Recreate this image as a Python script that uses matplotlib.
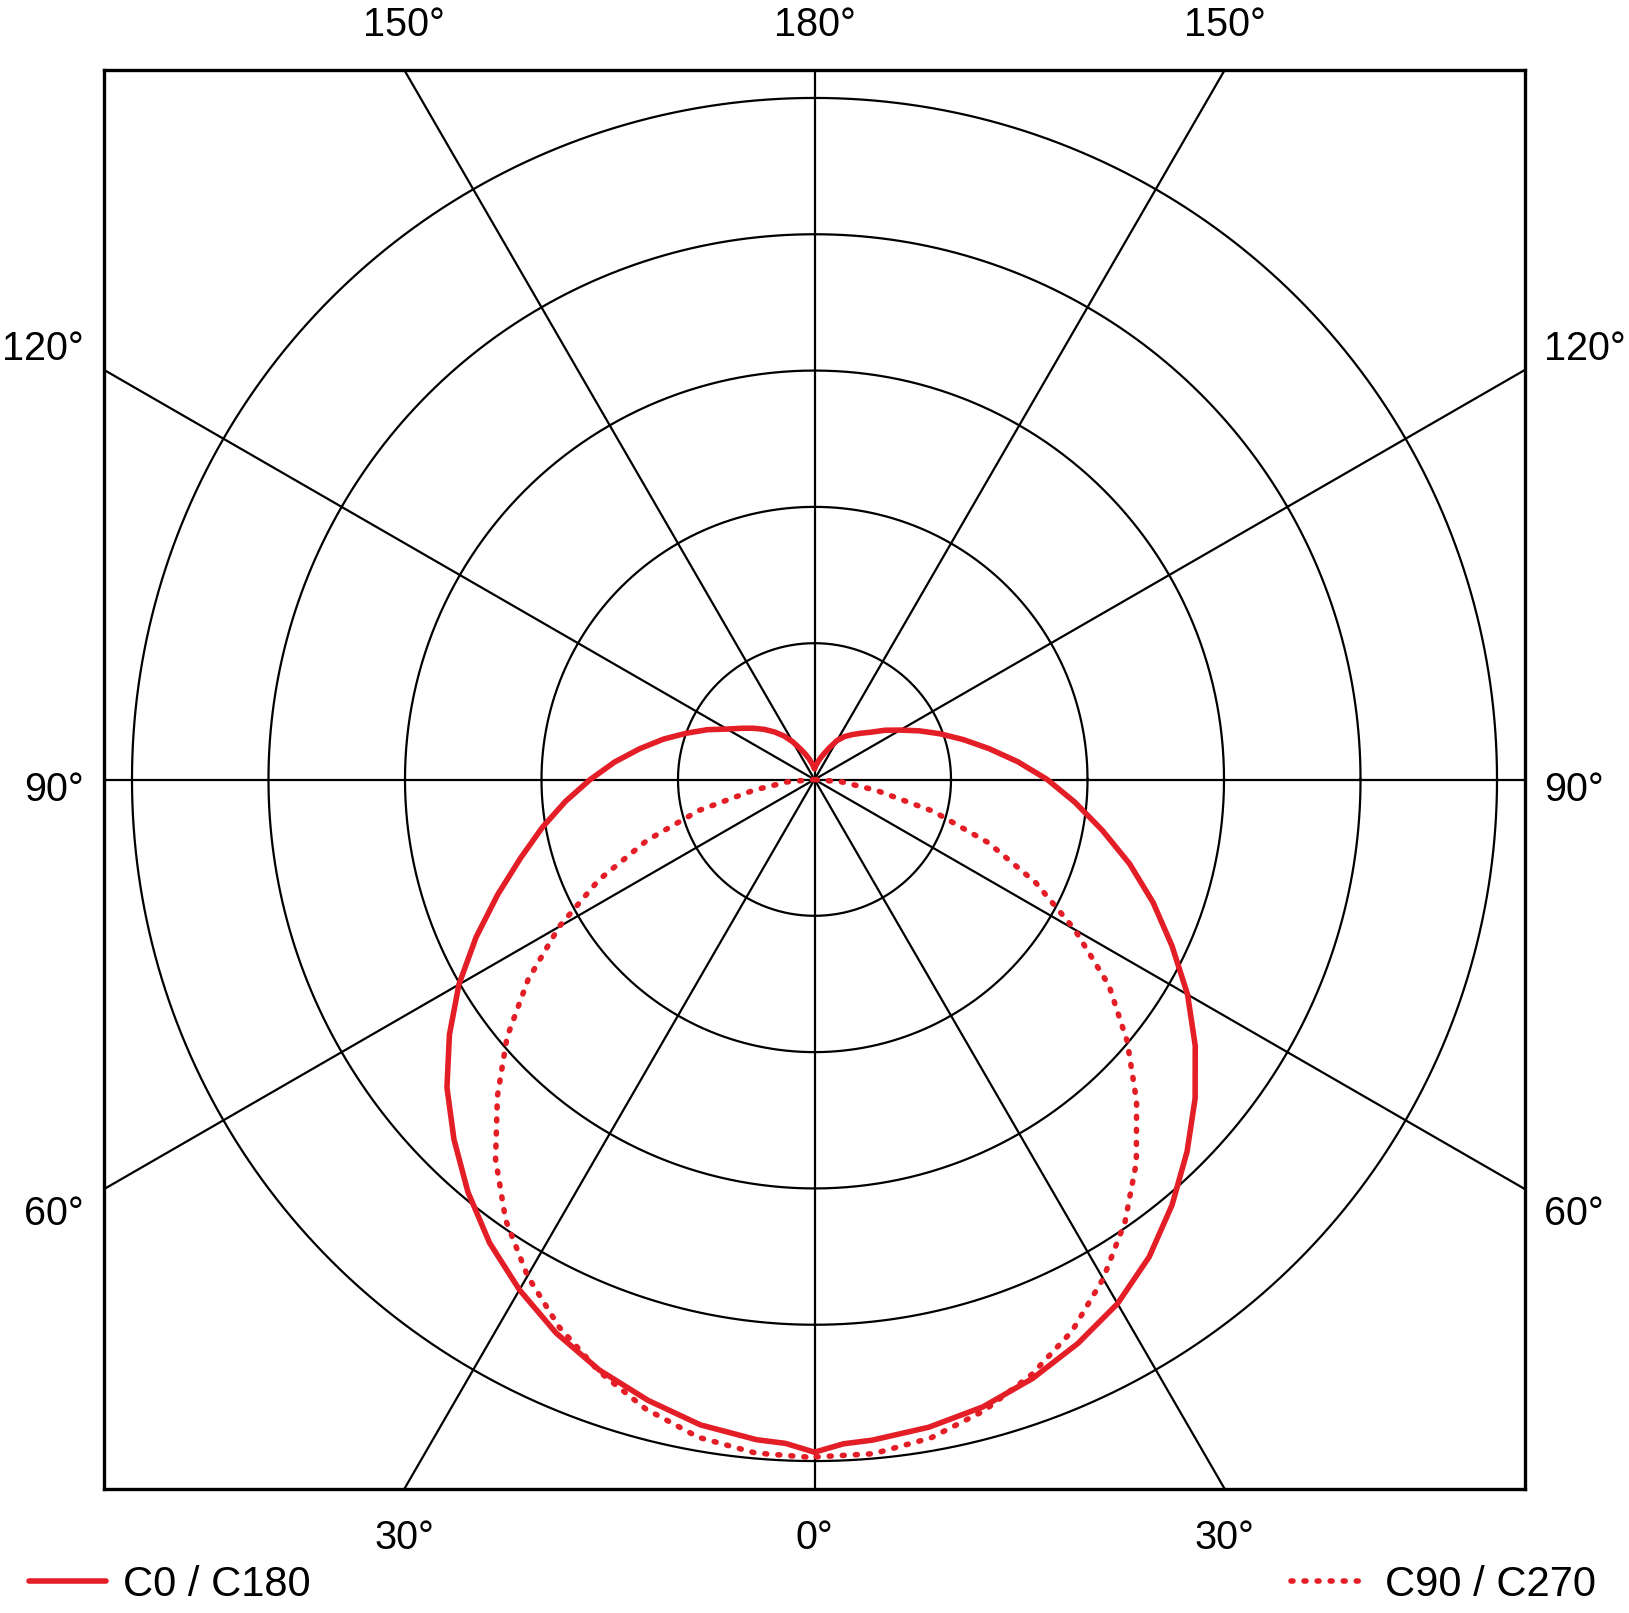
import matplotlib
matplotlib.use('Agg')
import matplotlib.pyplot as plt
import numpy as np
from matplotlib.lines import Line2D

plt.rcParams['font.family'] = ['Liberation Sans', 'DejaVu Sans']
plt.rcParams['figure.dpi'] = 100

RED = '#e41e26'

# luminous intensity, gamma measured from straight down (0) to straight up (180)
gamma = np.r_[0, 2.5, np.arange(5, 185, 5)]
c0 = [4.935, 4.878, 4.865, 4.825, 4.765, 4.675, 4.565, 4.44, 4.275, 4.075, 3.86,
      3.64, 3.405, 3.156, 2.89, 2.64, 2.39, 2.14, 1.915, 1.705, 1.495,
      1.30, 1.13, 0.98, 0.845, 0.725, 0.63, 0.54, 0.48, 0.43, 0.385,
      0.33, 0.255, 0.20, 0.16, 0.125, 0.10, 0.08]
c180 = [4.935, 4.875, 4.862, 4.808, 4.715, 4.61, 4.48, 4.323, 4.15, 3.95, 3.735,
        3.515, 3.265, 3.008, 2.735, 2.47, 2.23, 2.025, 1.83, 1.643, 1.47,
        1.30, 1.145, 0.995, 0.865, 0.74, 0.655, 0.585, 0.52, 0.455, 0.39,
        0.32, 0.25, 0.20, 0.16, 0.125, 0.10, 0.08]

gamma_t = np.arange(0, 95, 5)
c90 = [4.97, 4.965, 4.905, 4.795, 4.647, 4.465, 4.229, 3.965, 3.668, 3.337,
       2.991, 2.633, 2.20, 1.786, 1.355, 0.90, 0.46, 0.2, 0.0]
c270 = [4.975, 4.96, 4.9, 4.78, 4.62, 4.43, 4.205, 3.945, 3.635, 3.285,
        2.94, 2.562, 2.16, 1.744, 1.305, 0.875, 0.45, 0.2, 0.0]

rings = [1, 2, 3, 4, 5]
spokes = [0, 30, 60, 90, 120, 150]
top_labels = [150, 180, 150]
bottom_labels = [30, 0, 30]
side_labels = [120, 90, 60]

lim = 5.205


def to_xy(g, r, side):
    t = np.radians(np.asarray(g, dtype=float))
    r = np.asarray(r, dtype=float)
    return side * r * np.sin(t), -r * np.cos(t)


W, H = 1629, 1613
fig = plt.figure(figsize=(W / 100, H / 100))
ax = fig.add_axes([104 / W, (H - 1489) / H, 1421 / W, 1419 / H])
ax.set_xlim(-lim, lim)
ax.set_ylim(-lim, lim)
ax.set_xticks([])
ax.set_yticks([])
for sp in ax.spines.values():
    sp.set_linewidth(2.4)

# grid
t = np.linspace(0, 2 * np.pi, 721)
for r in rings:
    ax.plot(r * np.cos(t), r * np.sin(t), color='black', lw=1.6, zorder=1)
for s in spokes:
    a = np.radians(s)
    L = 20
    ax.plot([-L * np.sin(a), L * np.sin(a)], [L * np.cos(a), -L * np.cos(a)],
            color='black', lw=1.6, zorder=1)

# curves
lw = 4.0
dots = (0, (0.35, 2.0))
xl, yl = to_xy(gamma[::-1], c180[::-1], -1)
xr, yr = to_xy(gamma, c0, 1)
ax.plot(np.r_[xl, xr], np.r_[yl, yr], color=RED, lw=lw,
        solid_joinstyle='round', solid_capstyle='round', zorder=3)

xl, yl = to_xy(gamma_t[::-1], c270[::-1], -1)
xr, yr = to_xy(gamma_t, c90, 1)
ax.plot(np.r_[xl, xr], np.r_[yl, yr], color=RED, lw=lw,
        linestyle=dots, dash_capstyle='round', zorder=3)

# angle labels
fs = 28.5
edge = lim * np.tan(np.radians(30))
for xpos, lab in zip([-edge, 0, edge], top_labels):
    ax.text(xpos, lim + 0.33, f'{lab}°', ha='center', va='center', fontsize=fs)
for xpos, lab in zip([-edge, 0, edge], bottom_labels):
    ax.text(xpos, -lim - 0.36, f'{lab}°', ha='center', va='center', fontsize=fs)
for ypos, lab in zip([edge + 0.155, -0.08, -edge - 0.185], side_labels):
    ax.text(-lim - 0.15, ypos, f'{lab}°', ha='right', va='center', fontsize=fs)
    ax.text(lim + 0.14, ypos, f'{lab}°', ha='left', va='center', fontsize=fs)

# legends
h1 = Line2D([], [], color=RED, lw=lw, solid_capstyle='round')
h2 = Line2D([], [], color=RED, lw=lw, linestyle=dots, dash_capstyle='round')
leg_kw = dict(frameon=False, borderpad=0, borderaxespad=0, handlelength=1.85,
              handletextpad=0.4, fontsize=30)
fig.legend(handles=[h1], labels=['C0 / C180'], loc='center left',
           bbox_to_anchor=(29 / W, (H - 1585) / H), **leg_kw)
fig.legend(handles=[h2], labels=['C90 / C270'], loc='center right',
           bbox_to_anchor=(1596 / W, (H - 1585) / H), **leg_kw)

fig.savefig('out.png', dpi=100)
